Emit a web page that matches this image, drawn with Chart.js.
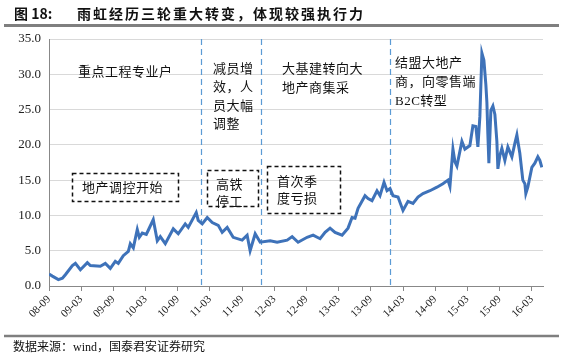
<!DOCTYPE html>
<html>
<head>
<meta charset="utf-8">
<script src="https://cdn.jsdelivr.net/npm/chart.js@4.4.1/dist/chart.umd.min.js"></script>
<style>
html,body{margin:0;padding:0;background:#fff;}
#wrap{position:relative;width:563px;height:355px;}
canvas{display:block;}
</style>
</head>
<body>
<div id="wrap"><canvas id="c" width="563" height="355"></canvas></div>
<script>
// months elapsed since 2008-09 (x position of each reading)
const monthsSince0809 = [
  0, 0.63, 1.75, 2.5, 3.05, 4.36, 4.92, 5.85, 7.15, 7.71,
  9.57, 10.5, 11.43, 12.36, 12.92, 13.85, 14.79, 15.16, 15.72, 16.46,
  16.84, 17.39, 18.14, 18.51, 19.44, 20.19, 20.75, 21.68, 23.17, 24.1,
  25.4, 25.96, 27.45, 27.82, 28.57, 29.5, 30.43, 31.55, 32.29, 33.22,
  34.34, 36.01, 36.94, 37.5, 38.44, 39.37, 41.23, 42.53, 44.4, 45.33,
  46.44, 48.12, 49.24, 50.54, 51.47, 52.4, 53.33, 54.64, 55.75, 56.5,
  57.06, 57.62, 58.92, 59.48, 60.22, 61.15, 61.71, 62.46, 63.02, 63.58,
  64.13, 65.07, 66.0, 66.93, 67.86, 68.79, 69.72, 71.02, 72.33, 73.44,
  74.38, 74.75, 75.31, 75.68, 76.05, 76.98, 77.54, 78.47, 79.03, 79.59,
  79.96, 80.33, 80.71, 81.08, 81.45, 81.64, 81.82, 82.01, 82.38, 82.76,
  83.13, 83.5, 83.69, 84.06, 84.43, 84.99, 85.55, 86.3, 86.85, 87.23,
  87.41, 87.78, 88.34, 88.72, 88.9, 89.27, 90.02, 90.58, 91.14, 91.51,
  91.88
];
// share price (yuan)
const price = [
  1.7, 1.4, 0.9, 1.1, 1.6, 2.9, 3.2, 2.3, 3.3, 2.9,
  2.8, 3.2, 2.5, 3.5, 3.2, 4.3, 4.9, 6.0, 5.4, 8.0,
  6.9, 7.5, 7.3, 7.9, 9.4, 6.4, 7.0, 6.0, 8.1, 7.4,
  8.8, 8.3, 10.4, 9.3, 8.8, 9.7, 9.0, 8.6, 7.6, 8.3,
  6.9, 6.5, 7.2, 5.0, 7.4, 6.2, 6.4, 6.2, 6.5, 7.0,
  6.2, 6.9, 7.2, 6.7, 7.6, 8.2, 7.6, 7.2, 8.2, 9.7,
  9.6, 11.0, 12.8, 12.4, 12.1, 13.5, 12.8, 14.7, 13.5, 13.8,
  12.8, 12.6, 10.7, 12.0, 11.7, 12.6, 13.1, 13.5, 14.0, 14.5,
  15.0, 14.1, 19.4, 17.6, 17.0, 20.5, 19.4, 19.9, 22.7, 22.6,
  19.7, 24.0, 33.0, 32.0, 28.5, 26.0, 21.5, 17.4, 24.9, 25.5,
  24.3, 20.5, 16.6, 18.5, 19.5, 17.8, 19.7, 18.3, 20.2, 21.4,
  20.5, 18.8, 15.0, 14.5, 13.1, 14.0, 16.8, 17.4, 18.3, 17.8,
  16.8
];
const tickLabels = ['08-09','09-03','09-09','10-03','10-09','11-03','11-09','12-03',
                    '12-09','13-03','13-09','14-03','14-09','15-03','15-09','16-03'];
// turning points (months since 2008-09)
const eventMonths = [28.3, 39.55, 63.5];

const titleLabel = '图 18:';
const titleText = '雨虹经历三轮重大转变，体现较强执行力';
const sourceText = '数据来源：wind，国泰君安证券研究';

const CJK = "'Noto Sans CJK SC'";

const decorPlugin = {
  id: 'decor',
  beforeDatasetsDraw(chart) {
    const {ctx, chartArea, scales} = chart;
    ctx.save();
    ctx.strokeStyle = '#5b9bd5';
    ctx.lineWidth = 1.2;
    ctx.setLineDash([6, 4]);
    eventMonths.forEach(m => {
      const x = Math.round(scales.x.getPixelForValue(m)) + 0.5;
      ctx.beginPath();
      ctx.moveTo(x, chartArea.top);
      ctx.lineTo(x, chartArea.bottom);
      ctx.stroke();
    });
    ctx.restore();
  },
  afterDraw(chart) {
    const {ctx} = chart;
    ctx.save();
    // title
    ctx.fillStyle = '#111';
    ctx.textBaseline = 'middle';
    ctx.font = "bold 14px " + CJK;
    ctx.letterSpacing = '0px';
    ctx.fillText(titleLabel, 14, 13.5);
    ctx.letterSpacing = '2px';
    ctx.fillText(titleText, 77, 13.5);
    ctx.letterSpacing = '0px';
    // rules
    ctx.strokeStyle = '#7f7f7f';
    ctx.lineWidth = 3;
    ctx.beginPath(); ctx.moveTo(4, 25.5); ctx.lineTo(559, 25.5); ctx.stroke();
    ctx.lineWidth = 2.5;
    ctx.beginPath(); ctx.moveTo(4, 336); ctx.lineTo(559, 336); ctx.stroke();
    // source
    ctx.fillStyle = '#111';
    ctx.font = "12px 'Liberation Serif', " + CJK;
    ctx.fillText(sourceText, 13, 347.5);

    // annotations
    ctx.font = "13px " + CJK;
    ctx.letterSpacing = '0.5px';
    ctx.fillStyle = '#111';
    const txt = (s, x, y) => ctx.fillText(s, x, y);
    txt('重点工程专业户', 78, 71);
    ['减员增', '效，人', '员大幅', '调整'].forEach((s, i) => txt(s, 213, 68 + i * 18.5));
    ['大基建转向大', '地产商集采'].forEach((s, i) => txt(s, 282, 68 + i * 19));
    ctx.font = "13px 'Liberation Serif', " + CJK;
    ['结盟大地产', '商，向零售端', 'B2C转型'].forEach((s, i) => txt(s, 395, 64 + i * 19));
    ctx.font = "13px " + CJK;
    txt('地产调控开始', 82, 187);
    txt('高铁', 216, 184);
    txt('停工', 216, 201);
    txt('首次季', 277, 181);
    txt('度亏损', 277, 198);
    ctx.letterSpacing = '0px';
    // dashed boxes
    ctx.strokeStyle = '#111';
    ctx.lineWidth = 1.5;
    ctx.setLineDash([4, 3]);
    ctx.strokeRect(72.5, 173.5, 106, 28);
    ctx.strokeRect(207.5, 170.5, 51, 36);
    ctx.strokeRect(267.5, 166.5, 73, 47);
    ctx.restore();
  }
};

new Chart(document.getElementById('c'), {
  type: 'line',
  data: {
    datasets: [{
      data: monthsSince0809.map((m, i) => ({x: m, y: price[i]})),
      borderColor: '#3e72b9',
      borderWidth: 3,
      pointRadius: 0,
      tension: 0,
      fill: false
    }]
  },
  options: {
    responsive: false,
    animation: false,
    layout: {padding: {left: 0, top: 39, right: 20, bottom: 0}},
    plugins: {legend: {display: false}, tooltip: {enabled: false}, title: {display: false}},
    scales: {
      x: {
        type: 'linear',
        min: 0,
        max: 92.1,
        afterBuildTicks: s => { s.ticks = tickLabels.map((_, i) => ({value: i * 6})); },
        afterFit: s => { s.height = 69; },
        grid: {display: true, drawOnChartArea: false, drawTicks: true, tickLength: 5, color: '#888'},
        border: {display: true, color: '#888', width: 1},
        ticks: {
          autoSkip: false,
          minRotation: 45,
          maxRotation: 45,
          padding: 2,
          color: '#222',
          font: {family: "'Liberation Serif'", size: 11},
          callback: v => tickLabels[Math.round(v / 6)] ?? ''
        }
      },
      y: {
        min: 0,
        max: 35,
        afterFit: s => { s.width = 49; },
        grid: {color: '#d9d9d9', drawTicks: false},
        border: {display: true, color: '#888', width: 1},
        ticks: {
          stepSize: 5,
          padding: 8,
          color: '#222',
          font: {family: "'Liberation Serif'", size: 13},
          callback: v => v.toFixed(1)
        }
      }
    }
  },
  plugins: [decorPlugin]
});
</script>
</body>
</html>
